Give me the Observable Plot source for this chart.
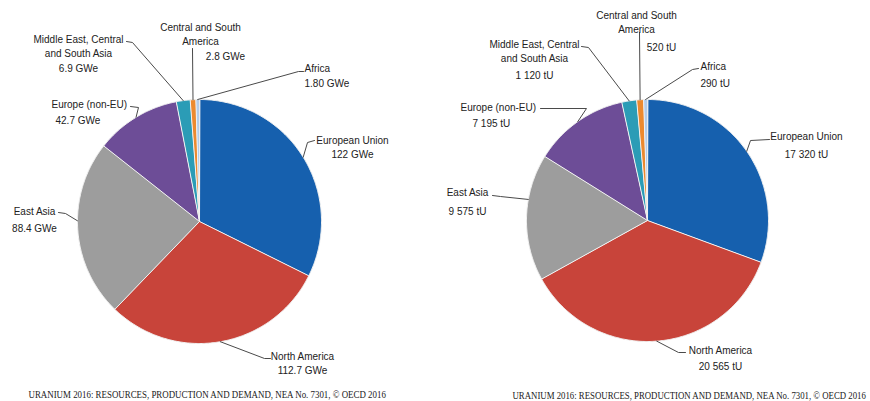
<!DOCTYPE html>
<html>
<head>
<meta charset="utf-8">
<script src="https://cdn.jsdelivr.net/npm/d3@7"></script>
<script src="https://cdn.jsdelivr.net/npm/@observablehq/plot@0.6"></script>
<style>
  html, body { margin: 0; padding: 0; background: #fff; }
  #chart svg { display: block; }
</style>
</head>
<body>
<div id="chart"></div>
<script>
// ---------- data ----------
const regions = ["European Union", "North America", "East Asia", "Europe (non-EU)",
  "Middle East, Central and South Asia", "Central and South America", "Africa"];
const regionLines = [["European Union"], ["North America"], ["East Asia"], ["Europe (non-EU)"],
  ["Middle East, Central", "and South Asia"], ["Central and South", "America"], ["Africa"]];
const capacityGWe = [122, 112.7, 88.4, 42.7, 6.9, 2.8, 1.80];
const capacityLabels = ["122 GWe", "112.7 GWe", "88.4 GWe", "42.7 GWe", "6.9 GWe", "2.8 GWe", "1.80 GWe"];
const requirementsTU = [17320, 20565, 9575, 7195, 1120, 520, 290];
const requirementsLabels = ["17 320 tU", "20 565 tU", "9 575 tU", "7 195 tU", "1 120 tU", "520 tU", "290 tU"];
const sourceNote = "URANIUM 2016: RESOURCES, PRODUCTION AND DEMAND, NEA No. 7301, \u00A9 OECD 2016";

// ---------- style / layout ----------
const palette = ["#1660ae", "#c8443a", "#9d9d9d", "#6d4d97", "#2b9cb6", "#ec8a2f", "#b3cdea"];
const pies = [
  { values: capacityGWe, valueLabels: capacityLabels, cx: 199, cy: 221, r: 122, lh: 14.5,
    note: { x: 28, y: 394, w: 358 },
    lab: [
      { x: 352, y: 140, a: "middle", gap: 14, hook: [[307, 142], [314, 140]] },
      { x: 302, y: 356, a: "middle", gap: 14, hook: [[264, 358], [270, 358]] },
      { x: 34, y: 211, a: "middle", gap: 17, frac: 0.55, hook: [[65, 213], [58, 212]] },
      { x: 51, y: 104, a: "start", gap: 16, vdx: 4, hook: [[138, 107], [130, 106]] },
      { x: 78, y: 39, a: "middle", gap: 14.5, hook: [[132, 42], [126, 41]] },
      { x: 200, y: 27, a: "middle", gap: 15, vdx: 25, hook: [[192, 48]] },
      { x: 304, y: 68, a: "start", gap: 15, hook: [[298, 71], [303, 71]] }
    ] },
  { values: requirementsTU, valueLabels: requirementsLabels, cx: 647, cy: 220, r: 121, lh: 14,
    note: { x: 512, y: 395, w: 354 },
    lab: [
      { x: 806, y: 136, a: "middle", gap: 18, hook: [[750, 140], [769, 139]] },
      { x: 720, y: 350, a: "middle", gap: 16, hook: [[678, 352], [685, 352]] },
      { x: 467, y: 192, a: "middle", gap: 19, frac: 0.64, hook: [[500, 196], [492, 195]] },
      { x: 460, y: 107, a: "start", gap: 16, vdx: 12, hook: [[586, 108], [540, 108]] },
      { x: 534, y: 44, a: "middle", gap: 17, hook: [[588, 47], [581, 46]] },
      { x: 636, y: 15, a: "middle", gap: 18, vdx: 25, hook: [[639, 32]] },
      { x: 700, y: 66, a: "start", gap: 17, hook: [[692, 69], [698, 68]] }
    ] }
];

// ---------- build mark data ----------
const slices = [], leaders = [], texts = [], centers = [], notes = [];
pies.forEach((p, pi) => {
  const arcs = d3.pie().sort(null).startAngle(0).endAngle(2 * Math.PI)(p.values);
  const pt = a => [p.cx + p.r * Math.sin(a), p.cy - p.r * Math.cos(a)];
  centers.push({ x: p.cx, y: p.cy, r: p.r });
  notes.push({ x: p.note.x, y: p.note.y, w: p.note.w, text: sourceNote });
  arcs.forEach((arc, i) => {
    const key = pi + "-" + i;
    slices.push({ key, region: regions[i], x: p.cx, y: p.cy });
    const n = Math.max(2, Math.ceil((arc.endAngle - arc.startAngle) / 0.01));
    for (let k = 0; k <= n; k++) {
      const a = arc.startAngle + (arc.endAngle - arc.startAngle) * k / n;
      const [x, y] = pt(a);
      slices.push({ key, region: regions[i], x, y });
    }
    const L = p.lab[i];
    const f = L.frac ?? 0.5;
    const [ax, ay] = pt(arc.startAngle + (arc.endAngle - arc.startAngle) * f);
    leaders.push({ key, x: ax, y: ay });
    L.hook.forEach(([x, y]) => leaders.push({ key, x, y }));
    const lines = regionLines[i];
    lines.forEach((t, j) => texts.push({ x: L.x, y: L.y + j * p.lh, text: t, anchor: L.a }));
    texts.push({ x: L.x + (L.vdx || 0), y: L.y + (lines.length - 1) * p.lh + L.gap,
      text: p.valueLabels[i], anchor: L.a });
  });
});

const labelFont = "'Liberation Sans', Arial, sans-serif";
const textMark = anchor => Plot.text(texts.filter(d => d.anchor === anchor), {
  x: "x", y: "y", text: "text", textAnchor: anchor, lineAnchor: "middle",
  fontSize: 10, fontFamily: labelFont, fill: "#222"
});

const chart = Plot.plot({
  width: 870, height: 401,
  margin: 0,
  x: { domain: [0, 870], range: [0, 870], axis: null },
  y: { domain: [0, 401], range: [0, 401], axis: null },
  color: { domain: regions, range: palette },
  marks: [
    Plot.dot(centers, { x: "x", y: "y", r: d => d.r + 3, dx: 1, dy: 2, fill: "#e6e6e6", stroke: "none" }),
    Plot.dot(centers, { x: "x", y: "y", r: d => d.r + 1.5, fill: "#cfcfcf", stroke: "none" }),
    Plot.line(slices, { x: "x", y: "y", z: "key", fill: "region", stroke: "#f2f2f2",
      strokeWidth: 1, curve: "linear-closed", strokeLinejoin: "round" }),
    Plot.line(leaders, { x: "x", y: "y", z: "key", stroke: "#4a4a4a", strokeWidth: 1 }),
    textMark("middle"),
    textMark("start"),
    Plot.text(notes, { x: "x", y: "y", text: "text", textAnchor: "start", lineAnchor: "middle",
      fontSize: 9.5, fontFamily: "'Liberation Serif', 'Times New Roman', serif", fill: "#222" })
  ]
});
document.getElementById("chart").appendChild(chart);
// condense the source notes horizontally to the width they occupy in the original
const noteEls = Array.from(chart.querySelectorAll("text")).filter(el => el.textContent === sourceNote);
noteEls.forEach((el, i) => {
  const natural = el.getComputedTextLength();
  const sx = notes[i].w / natural;
  const t = el.getAttribute("transform") || "";
  el.setAttribute("transform", `${t} scale(${sx},1)`);
});
</script>
</body>
</html>
